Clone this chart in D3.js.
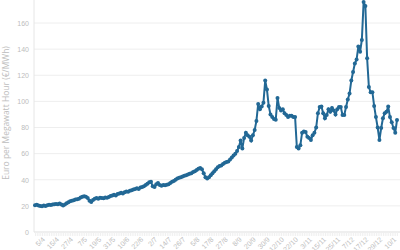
<!DOCTYPE html>
<html>
<head>
<meta charset="utf-8">
<script src="https://cdn.jsdelivr.net/npm/d3@7"></script>
<style>
  body { margin: 0; background: #fff; }
  svg { display: block; font-family: 'Open Sans', sans-serif; }
</style>
</head>
<body>
<svg id="chart" width="400" height="250"></svg>
<script>
// Tick labels shown on the x axis (one every 8 trading days)
const tickLabels = ['5/4', '15/4', '27/4', '7/5', '19/5', '31/5', '10/6', '22/6', '2/7', '14/7',
    '26/7', '5/8', '17/8', '27/8', '8/9', '20/9', '30/9', '12/10', '22/10', '3/11',
    '15/11', '25/11', '7/12', '17/12', '29/12', '10/1'];
const labelStep = 8;

// Daily price, Euro per MWh
const prices = [
    20.5, 20.8, 20.3, 20.0, 19.8, 20.2, 20.0, 20.5, 20.8, 20.6, 21.0, 21.2, 21.5,
    21.3, 21.8, 21.0, 20.2,
    21.0, 22.0, 22.8, 23.5, 24.0, 24.3,
    24.8, 25.0, 25.5, 26.5, 27.0, 27.3,
    27.0, 26.0, 24.0,
    23.0, 24.5, 25.5,
    26.0, 25.5, 26.3, 26.0, 25.8, 26.5, 26.2, 26.8,
    27.5, 28.0, 28.5, 28.0, 29.0, 29.5, 30.0, 29.5,
    30.5, 31.0, 30.8, 31.5, 32.0, 32.5, 33.0,
    33.5, 33.0, 34.0, 34.5, 35.0,
    36.0, 37.0, 38.0, 38.5,
    35.0, 34.5, 36.5,
    37.5, 36.0, 35.5, 36.0, 35.8, 36.2,
    36.5, 37.5, 38.5, 39.0, 40.0,
    41.0, 41.5, 42.0, 42.5, 43.0, 43.5, 44.0, 44.5,
    45.0, 46.0, 46.5, 47.5, 48.5, 49.0,
    48.0, 45.0, 42.0, 41.0,
    42.0, 43.5, 45.0, 46.5,
    48, 49.5, 50.5, 51, 52, 53, 53.6, 54, 55.5, 57, 58.5, 60, 62, 65, 70, 64,
    72, 76, 74, 73, 70, 74, 78,
    85, 98, 94, 96, 99, 116, 109,
    96.5, 90, 88, 86.5, 86, 102.6, 95, 93, 94, 91, 89.6, 88, 89, 89, 88, 88,
    65, 64, 66.5, 76, 77, 76.5, 73, 72, 70.5, 74, 76, 80,
    91, 95.7, 96, 91, 87, 89.6, 94, 92, 95, 93, 90, 94, 95.7, 95.7, 89.6, 89.6, 95.7, 101.5, 106,
    116, 122.5, 129, 132, 142, 138, 147, 176, 173, 133, 111, 107, 107,
    96.5, 88, 80, 70.4, 79.6, 87, 91, 92, 96, 88, 84, 79.6, 76, 85.7
];

const yTicks = [0, 20, 40, 60, 80, 100, 120, 140, 160];

const svg = d3.select('#chart');
const left = 34, right = 400, bottom = 232;
const lineColor = '#226895';
const faint = '#bdbdbd';

const x = d3.scalePoint()
    .domain(d3.range(prices.length))
    .range([left + 1, 397]);

const y = d3.scaleLinear()
    .domain([0, 160])
    .range([bottom, 23]);

// Horizontal grid lines
svg.append('g')
    .selectAll('line')
    .data(yTicks)
    .enter()
    .append('line')
    .attr('x1', left)
    .attr('x2', right)
    .attr('y1', d => y(d))
    .attr('y2', d => y(d))
    .attr('stroke', '#eeeeee')
    .attr('stroke-width', 1);

// Y axis
const yAxis = svg.append('g')
    .attr('transform', `translate(${left},0)`)
    .call(d3.axisLeft(y).tickValues(yTicks).tickSize(0).tickPadding(5));
yAxis.select('.domain').attr('stroke', '#e6e6e6').attr('d', `M0,0V${bottom}`);
yAxis.selectAll('text').attr('fill', faint).attr('font-size', 7);

// X axis with a tick for every day, label every 8th
const xAxis = svg.append('g')
    .attr('transform', `translate(0,${bottom})`)
    .call(d3.axisBottom(x)
        .tickSize(4)
        .tickFormat(i => i % labelStep === 0 ? (tickLabels[i / labelStep] || '') : ''));
xAxis.select('.domain').attr('stroke', '#e6e6e6').attr('d', `M${left},0H${right}`);
xAxis.selectAll('.tick line').attr('stroke', '#f0f0f0');
xAxis.selectAll('text')
    .attr('fill', faint)
    .attr('font-size', 7)
    .attr('text-anchor', 'end')
    .attr('transform', 'translate(2,0) rotate(-45)')
    .attr('dx', 0)
    .attr('dy', '0.6em');

// Y axis title
svg.append('text')
    .attr('transform', `translate(9,${113}) rotate(-90)`)
    .attr('text-anchor', 'middle')
    .attr('fill', faint)
    .attr('font-size', 8.5)
    .text('Euro per Megawatt Hour (€/MWh)');

// Price line
const line = d3.line()
    .x((d, i) => x(i))
    .y(d => y(d));

svg.append('path')
    .datum(prices)
    .attr('fill', 'none')
    .attr('stroke', lineColor)
    .attr('stroke-width', 2)
    .attr('d', line);

// Point markers
svg.append('g')
    .selectAll('circle')
    .data(prices)
    .enter()
    .append('circle')
    .attr('cx', (d, i) => x(i))
    .attr('cy', d => y(d))
    .attr('r', 2)
    .attr('fill', lineColor);
</script>
</body>
</html>
